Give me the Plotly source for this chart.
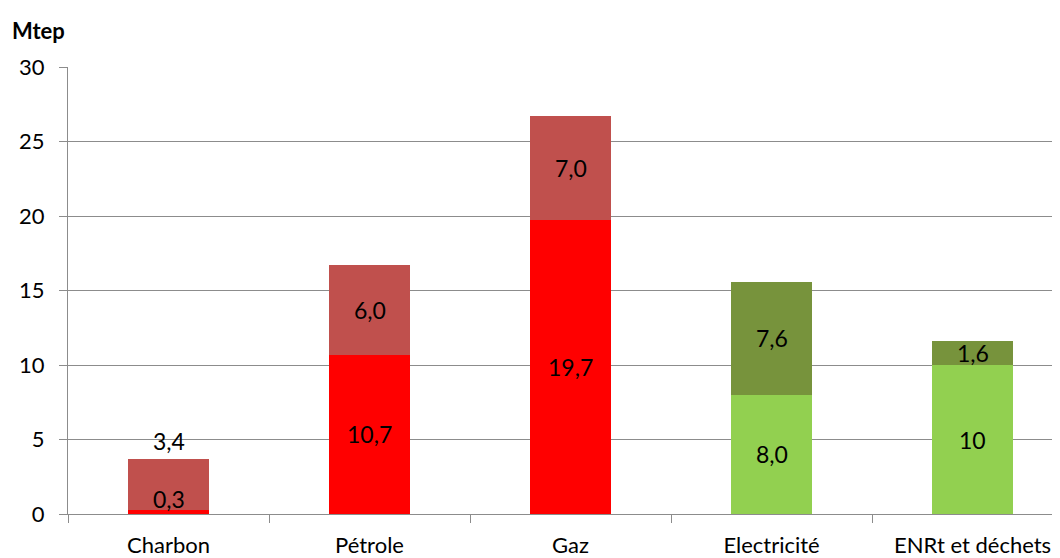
import plotly.graph_objects as go

categories = ["Charbon", "Pétrole", "Gaz", "Electricité", "ENRt et déchets"]
bottom_values = [0.3, 10.7, 19.7, 8.0, 10.0]
top_values = [3.4, 6.0, 7.0, 7.6, 1.6]
bottom_labels = ["0,3", "10,7", "19,7", "8,0", "10"]
top_labels = ["3,4", "6,0", "7,0", "7,6", "1,6"]
bottom_colors = ["#FF0000", "#FF0000", "#FF0000", "#92D050", "#92D050"]
top_colors = ["#C0504D", "#C0504D", "#C0504D", "#77933C", "#77933C"]
y_ticks = [0, 5, 10, 15, 20, 25, 30]

FONT = "Lato"

fig = go.Figure()
fig.add_trace(go.Bar(x=categories, y=bottom_values, marker=dict(color=bottom_colors, line=dict(width=0)),
                     hoverinfo="skip"))
fig.add_trace(go.Bar(x=categories, y=top_values, marker=dict(color=top_colors, line=dict(width=0)),
                     hoverinfo="skip"))

# data labels
for i, c in enumerate(categories):
    b, t = bottom_values[i], top_values[i]
    yb = b / 2
    yt = b + t / 2
    if i == 0:
        # small segment: labels shifted as in the original
        yb = b + 0.7
        yt = b + t + 1.2
    fig.add_annotation(x=c, y=yb, text=bottom_labels[i], showarrow=False,
                       font=dict(family=FONT, size=23, color="black"))
    fig.add_annotation(x=c, y=yt, text=top_labels[i], showarrow=False,
                       font=dict(family=FONT, size=23, color="black"))

fig.add_annotation(xref="paper", yref="paper", x=-0.0585, y=1.0826, xanchor="left", yanchor="middle",
                   text="<b>Mtep</b>", showarrow=False,
                   font=dict(family=FONT, size=22, color="black"))

fig.update_layout(
    barmode="stack",
    bargap=0.6,
    showlegend=False,
    width=1052, height=550,
    margin=dict(l=60, r=0, t=59, b=35),
    plot_bgcolor="white", paper_bgcolor="white",
    font=dict(family=FONT, size=22, color="black"),
)
fig.update_xaxes(
    range=[-0.5, 4.435],
    tickson="boundaries",
    ticks="outside", ticklen=8, tickcolor="#8C8C8C", tickwidth=1,
    showline=True, linecolor="#8C8C8C", linewidth=1,
    showgrid=False,
    ticklabelstandoff=12,
    tickfont=dict(family=FONT, size=22, color="black"),
)
fig.update_yaxes(
    range=[0, 30],
    tickvals=y_ticks,
    ticks="outside", ticklen=8, tickcolor="#8C8C8C", tickwidth=1,
    showline=True, linecolor="#8C8C8C", linewidth=1,
    showgrid=True, gridcolor="#8C8C8C", gridwidth=1,
    zeroline=False,
    ticklabelstandoff=10,
    tickfont=dict(family=FONT, size=22, color="black"),
)

fig.write_html("out.html")
